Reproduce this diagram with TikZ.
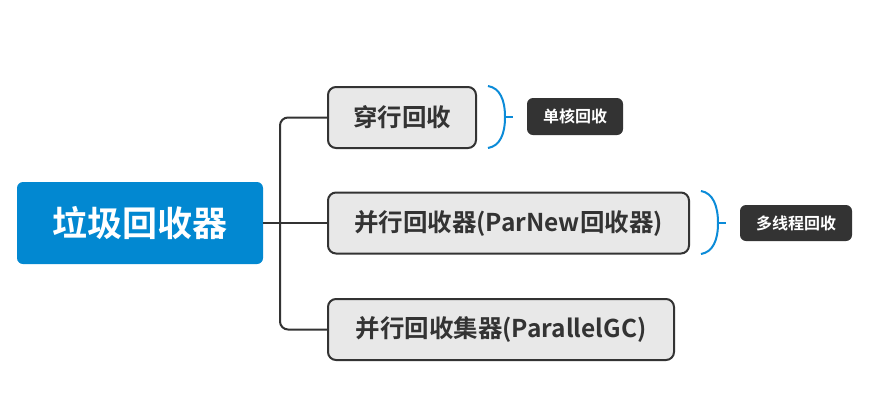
\documentclass[tikz,border=0pt]{standalone}
\usepackage{fontspec}
\newfontfamily\cjk{Noto Sans CJK SC}[BoldFont={* Bold}]
\definecolor{rootblue}{HTML}{0288D1}
\definecolor{brblue}{HTML}{0B8BD8}
\definecolor{darkbox}{HTML}{333333}
\definecolor{childfill}{HTML}{E8E8E8}
\begin{document}
\begin{tikzpicture}[x=1pt,y=-1pt,
  rootbox/.style={fill=rootblue, rounded corners=6pt, text=white, font=\cjk\bfseries\fontsize{35}{40}\selectfont, inner sep=0pt},
  childbox/.style={fill=childfill, draw=darkbox, line width=2pt, rounded corners=8pt, text=darkbox, font=\cjk\bfseries\fontsize{24.5}{28}\selectfont, inner sep=0pt, minimum height=61pt},
  tagbox/.style={fill=darkbox, rounded corners=6pt, text=white, font=\cjk\bfseries\fontsize{16}{19}\selectfont, inner sep=0pt},
  conn/.style={draw=darkbox, line width=2pt, rounded corners=8pt},
  brace/.style={draw=brblue, line width=2pt}]
\useasboundingbox (0,0) rectangle (886,416);
\node[rootbox, minimum width=246pt, minimum height=82pt] (root) at (140,223) {垃圾回收器};
\node[childbox, minimum width=148pt] (c1) at (402,117.5) {穿行回收};
\node[childbox, minimum width=361pt] (c2) at (508.5,223) {并行回收器(ParNew回收器)};
\node[childbox, minimum width=346pt] (c3) at (501,329.5) {并行回收集器(ParallelGC)};
\node[tagbox, minimum width=96pt, minimum height=37pt] (t1) at (575,116.5) {单核回收};
\node[tagbox, minimum width=112pt, minimum height=36pt] (t2) at (796,223) {多线程回收};
\coordinate (tr) at (280,223);
\draw[conn] (root.east) -- (c2.west);
\draw[conn] (c1.west) -| (tr) |- (c3.west);
% brace 1
\coordinate (b1t) at (488,86);
\coordinate (b1m) at (505,117);
\coordinate (b1b) at (488,148);
\coordinate (b1k) at (513,117);
\draw[brace] (b1t) .. controls (500,88) and (505,100) .. (b1m) .. controls (505,134) and (500,146) .. (b1b);
\draw[brace] (b1m) -- (b1k);
% brace 2
\coordinate (b2t) at (701,191);
\coordinate (b2m) at (718,223);
\coordinate (b2b) at (701,254);
\coordinate (b2k) at (726,223);
\draw[brace] (b2t) .. controls (713,193) and (718,206) .. (b2m) .. controls (718,240) and (713,252) .. (b2b);
\draw[brace] (b2m) -- (b2k);
\end{tikzpicture}
\end{document}
